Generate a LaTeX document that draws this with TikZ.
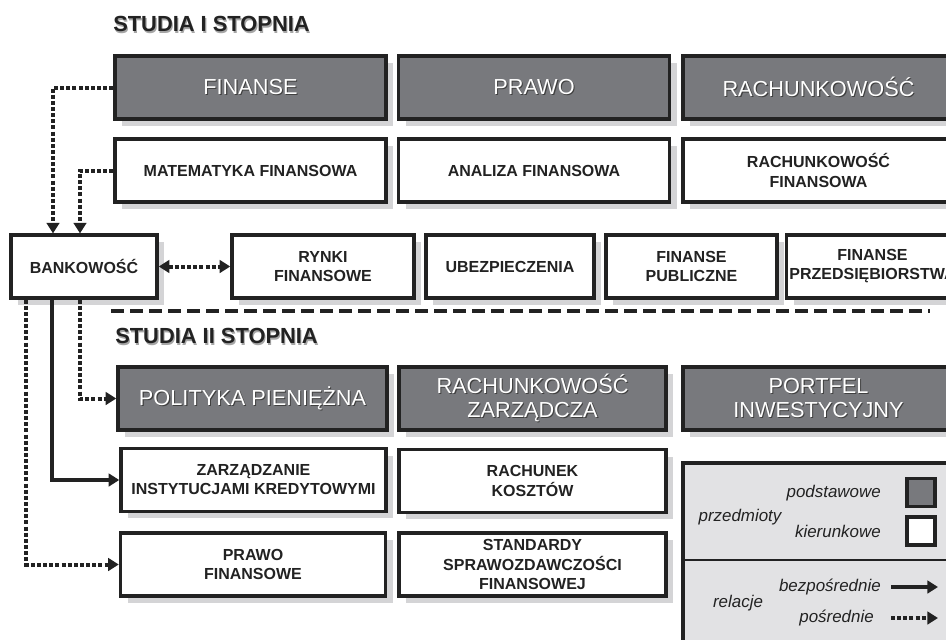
\documentclass[tikz,border=0pt]{standalone}
\usepackage{fontspec}
\setmainfont{Liberation Sans}
\usetikzlibrary{arrows.meta,positioning,shadows}

\definecolor{corefill}{RGB}{120,121,125}
\definecolor{linec}{RGB}{34,34,34}
\definecolor{shadowc}{RGB}{212,212,214}
\definecolor{legendfill}{RGB}{226,226,228}

% text with a small offset shadow
\newcommand\embtext[2]{\leavevmode\rlap{\hspace{0.8pt}\raisebox{-0.8pt}{\textcolor{#1}{#2}}}#2}

\begin{document}
\begin{tikzpicture}[x=0.75pt,y=-0.75pt,
  >={Triangle[length=8pt,width=9.5pt]},
  box/.style={rectangle, draw=linec, line width=2.6pt, align=center, inner sep=2pt,
    drop shadow={shadow xshift=5.25pt, shadow yshift=-5.25pt, fill=shadowc, opacity=1}},
  core/.style={box, fill=corefill, text=white, font=\fontsize{16.3}{18}\selectfont, minimum height=47pt},
  major/.style={box, fill=white, text=linec, font=\bfseries\fontsize{12}{14.3}\selectfont, minimum height=47pt},
  level/.style={anchor=west, text=linec, inner sep=0pt, font=\bfseries\fontsize{16.4}{18}\selectfont},
  legtext/.style={text=linec, inner sep=0pt, font=\itshape\fontsize{12.7}{14}\selectfont},
  keybox/.style={draw=linec, line width=2.6pt, minimum size=21pt, inner sep=0pt},
  direct/.style={draw=linec, line width=3pt, ->},
  indirect/.style={direct, dash pattern=on 3pt off 1.6pt}]

  \useasboundingbox (0,0) rectangle (946,639);
  \clip (0,0) rectangle (946,639);

  % Level titles
  \node[level] (first) at (113,25) {\embtext{black!35}{STUDIA I STOPNIA}};
  \node[level] (second) at (115,337) {\embtext{black!35}{STUDIA II STOPNIA}};

  % First cycle: core subjects
  \node[core, minimum width=203.25pt] (finanse) at (250.5,87.5) {\embtext{black!75}{FINANSE}};
  \node[core, minimum width=203.25pt] (prawo) at (534,87.5) {\embtext{black!75}{PRAWO}};
  \node[core, minimum width=203.25pt] (rach) at (818.5,87.5) {\embtext{black!75}{RACHUNKOWOŚĆ}};

  % First cycle: field subjects
  \node[major, minimum width=203.25pt] (matfin) at (250.5,170.5) {MATEMATYKA FINANSOWA};
  \node[major, minimum width=203.25pt] (analiza) at (534,170.5) {ANALIZA FINANSOWA};
  \node[major, minimum width=203.25pt] (rachfin) at (818.5,170.5) {RACHUNKOWOŚĆ\\FINANSOWA};

  \node[major, minimum width=109.5pt] (bank) at (84,266.5) {BANKOWOŚĆ};
  \node[major, minimum width=136.5pt] (rynki) at (323,266.5) {RYNKI\\FINANSOWE};
  \node[major, minimum width=126pt] (ubezp) at (510,266.5) {UBEZPIECZENIA};
  \node[major, minimum width=128.25pt] (publ) at (691.5,266.5) {FINANSE\\PUBLICZNE};
  \node[major, minimum width=128.25pt] (przeds) at (872.5,266.5) {FINANSE\\PRZEDSIĘBIORSTWA};

  % Separator
  \draw[linec, line width=3pt, dash pattern=on 9.75pt off 4.5pt] (111,311) -- (930,311);

  % Second cycle
  \node[core, minimum width=201.75pt] (polityka) at (252.5,398.5) {\embtext{black!75}{POLITYKA PIENIĘŻNA}};
  \node[core, minimum width=200.25pt] (rachzarz) at (532.5,398.5) {\embtext{black!75}{RACHUNKOWOŚĆ}\\\embtext{black!75}{ZARZĄDCZA}};
  \node[core, minimum width=203.25pt] (portfel) at (818.5,398.5) {\embtext{black!75}{PORTFEL}\\\embtext{black!75}{INWESTYCYJNY}};

  \node[major, minimum width=198.75pt] (zarzinst) at (253.5,480) {ZARZĄDZANIE\\INSTYTUCJAMI KREDYTOWYMI};
  \node[major, minimum width=200.25pt] (koszty) at (532.5,481) {RACHUNEK\\KOSZTÓW};
  \node[major, minimum width=198.75pt] (prawofin) at (253,564.5) {PRAWO\\FINANSOWE};
  \node[major, minimum width=200.25pt] (standardy) at (532.5,564.5) {STANDARDY\\SPRAWOZDAWCZOŚCI\\FINANSOWEJ};

  % Relations
  \draw[indirect] (finanse.west) -| ([xshift=-23.25pt]bank.north);
  \draw[indirect] (matfin.west) -| ([xshift=-3pt]bank.north);
  \draw[indirect, <->] (bank.east) -- (rynki.west);
  \draw[indirect] ([xshift=-3pt]bank.south) |- (polityka.west);
  \draw[direct] ([xshift=-24pt]bank.south) |- (zarzinst.west);
  \draw[indirect] ([xshift=-43.5pt]bank.south) |- (prawofin.west);

  % Legend
  \draw[draw=linec, line width=2.6pt, fill=legendfill] (683,463) rectangle (970,660);
  \draw[linec, line width=1.5pt] (683,560) -- (970,560);
  \node[keybox, fill=corefill] (keycore) at (921,492.5) {};
  \node[keybox, fill=white] (keymajor) at (921,531) {};
  \node[legtext] (subjects) at (740,517) {przedmioty};
  \node[legtext, anchor=east] (basic) at (881,493) {podstawowe};
  \node[legtext, anchor=east] (field) at (881,531) {kierunkowe};
  \node[legtext] (relations) at (738,603) {relacje};
  \node[legtext, anchor=east] (dirtext) at (881,587) {bezpośrednie};
  \node[legtext, anchor=east] (indtext) at (874,618) {pośrednie};
  \coordinate (d1) at (891,587);
  \coordinate (d2) at (938,587);
  \coordinate (i1) at (891,618);
  \coordinate (i2) at (938,618);
  \draw[direct] (d1) -- (d2);
  \draw[indirect] (i1) -- (i2);
\end{tikzpicture}
\end{document}
